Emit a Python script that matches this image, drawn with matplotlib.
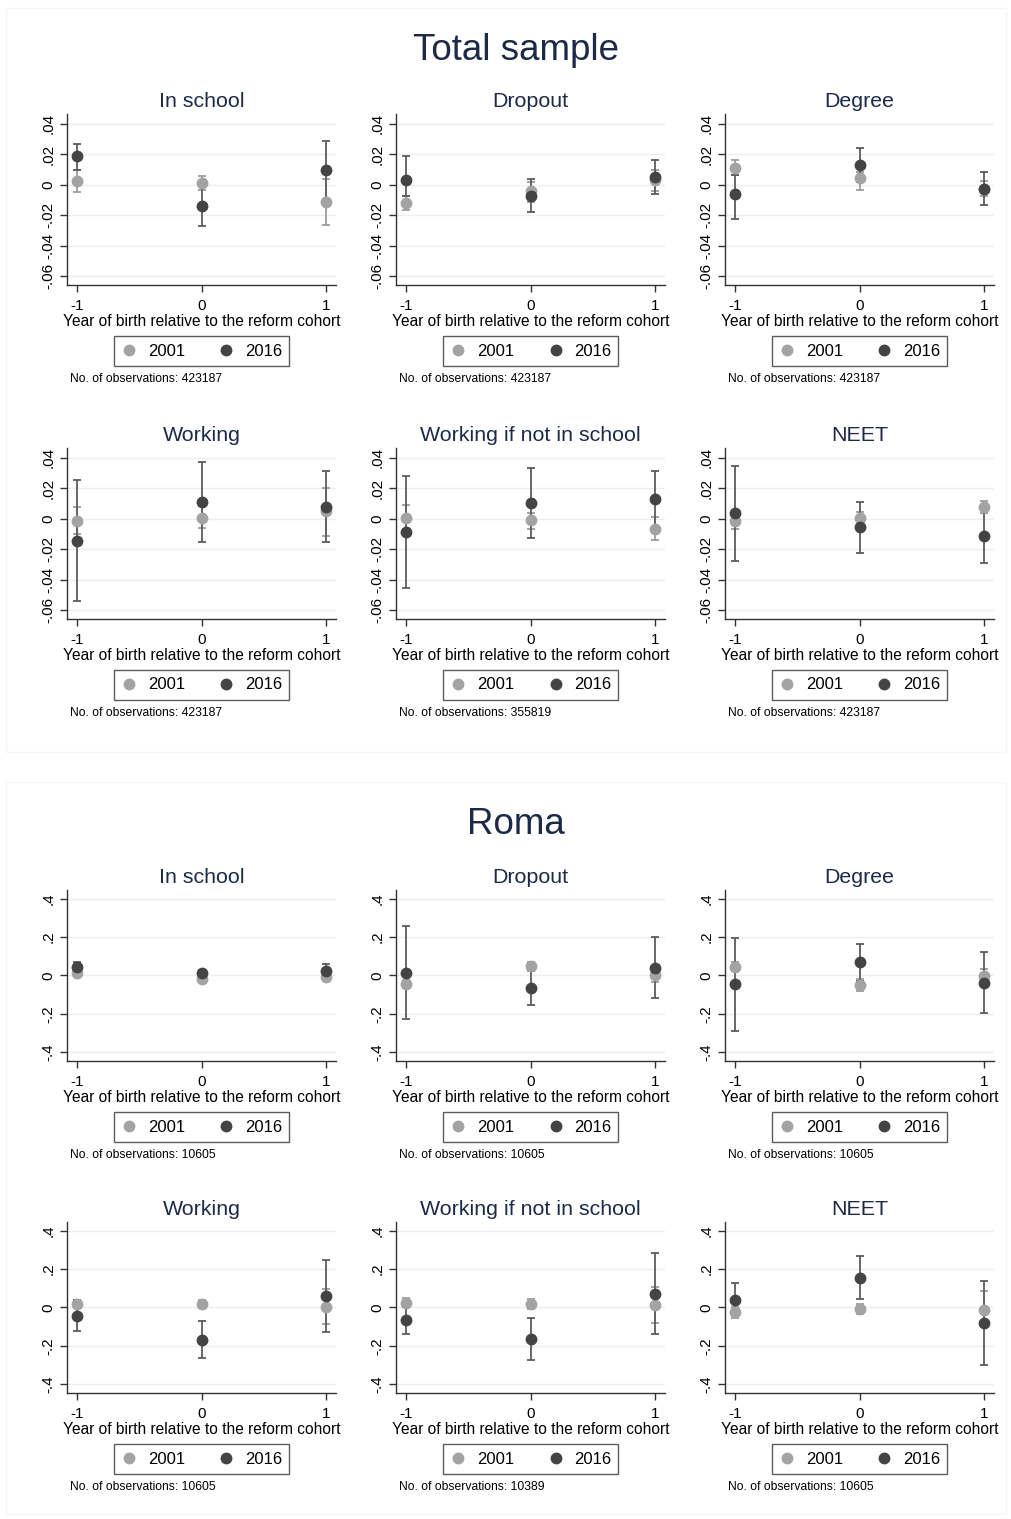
import matplotlib
matplotlib.use("Agg")
import matplotlib.pyplot as plt
from matplotlib.lines import Line2D
from matplotlib.patches import Rectangle
import numpy as np

plt.rcParams["font.family"] = ["Liberation Sans", "DejaVu Sans"]

# ---- data -------------------------------------------------------------
cohorts = [-1, 0, 1]
outcomes = ["In school", "Dropout", "Degree",
            "Working", "Working if not in school", "NEET"]
series_labels = ["2001", "2016"]

# Total sample: point estimates and 95% CI (rows = outcomes, cols = cohorts)
tot_est_2001 = [[0.0024, 0.0013, -0.0114],
                [-0.0119, -0.0042, 0.0029],
                [0.0112, 0.0042, -0.0026],
                [-0.0016, 0.0007, 0.0047],
                [0.0007, -0.0011, -0.0069],
                [-0.0015, 0.0007, 0.0077]]
tot_lo_2001 = [[-0.0050, -0.0037, -0.0266],
               [-0.0165, -0.0114, -0.0044],
               [0.0064, -0.0037, -0.0077],
               [-0.0104, -0.0062, -0.0113],
               [-0.0071, -0.0067, -0.0142],
               [-0.0066, -0.0033, 0.0040]]
tot_hi_2001 = [[0.0098, 0.0057, 0.0037],
               [-0.0075, 0.0018, 0.0099],
               [0.0163, 0.0084, 0.0024],
               [0.0076, 0.0080, 0.0200],
               [0.0087, 0.0038, 0.0011],
               [0.0033, 0.0046, 0.0114]]
tot_est_2016 = [[0.0185, -0.0140, 0.0095],
                [0.0029, -0.0075, 0.0051],
                [-0.0059, 0.0127, -0.0030],
                [-0.0144, 0.0107, 0.0078],
                [-0.0089, 0.0102, 0.0127],
                [0.0037, -0.0057, -0.0116]]
tot_lo_2016 = [[0.0099, -0.0273, -0.0092],
               [-0.0075, -0.0182, -0.0062],
               [-0.0224, 0.0020, -0.0134],
               [-0.0544, -0.0153, -0.0153],
               [-0.0456, -0.0129, -0.0053],
               [-0.0275, -0.0226, -0.0288]]
tot_hi_2016 = [[0.0270, -0.0007, 0.0286],
               [0.0191, 0.0035, 0.0165],
               [0.0064, 0.0242, 0.0081],
               [0.0253, 0.0371, 0.0311],
               [0.0278, 0.0333, 0.0313],
               [0.0349, 0.0112, 0.0055]]
tot_nobs = [423187, 423187, 423187, 423187, 355819, 423187]

# Roma
roma_est_2001 = [[0.014, -0.017, -0.007],
                 [-0.047, 0.047, 0.0035],
                 [0.044, -0.049, -0.005],
                 [0.017, 0.017, 0.0035],
                 [0.025, 0.018, 0.012],
                 [-0.025, -0.007, -0.011]]
roma_lo_2001 = [[0.000, -0.030, -0.020],
                [-0.068, 0.023, -0.037],
                [0.021, -0.079, -0.045],
                [-0.005, -0.005, -0.087],
                [0.000, -0.007, -0.084],
                [-0.053, -0.032, -0.090]]
roma_hi_2001 = [[0.030, -0.005, 0.010],
                [-0.026, 0.072, 0.044],
                [0.068, -0.019, 0.035],
                [0.040, 0.038, 0.094],
                [0.051, 0.044, 0.108],
                [0.000, 0.018, 0.084]]
roma_est_2016 = [[0.044, 0.012, 0.021],
                 [0.014, -0.065, 0.040],
                 [-0.047, 0.068, -0.038],
                 [-0.044, -0.168, 0.058],
                 [-0.067, -0.165, 0.072],
                 [0.040, 0.154, -0.081]]
roma_lo_2016 = [[0.021, -0.003, -0.017],
                [-0.227, -0.157, -0.117],
                [-0.290, -0.028, -0.194],
                [-0.122, -0.266, -0.130],
                [-0.140, -0.275, -0.137],
                [-0.042, 0.042, -0.300]]
roma_hi_2016 = [[0.070, 0.026, 0.058],
                [0.257, 0.035, 0.201],
                [0.194, 0.164, 0.122],
                [0.040, -0.070, 0.245],
                [0.004, -0.053, 0.284],
                [0.125, 0.268, 0.140]]
roma_nobs = [10605, 10605, 10605, 10605, 10389, 10605]

tot_yticks = [-0.06, -0.04, -0.02, 0, 0.02, 0.04]
tot_ylabels = ["-.06", "-.04", "-.02", "0", ".02", ".04"]
roma_yticks = [-0.4, -0.2, 0, 0.2, 0.4]
roma_ylabels = ["-.4", "-.2", "0", ".2", ".4"]

# ---- style ------------------------------------------------------------
W, H = 1012, 1519
C01 = "#a3a3a3"
C16 = "#444444"
E01 = "#9c9c9c"
E16 = "#5c5c5c"
GRID = "#e8f0f2"
TITLE = "#1c2a48"

fig = plt.figure(figsize=(W / 100, H / 100), dpi=100)

# faint graph-region frames
for (y0, y1) in [(8, 752), (782, 1514)]:
    fig.patches.append(Rectangle((6 / W, 1 - y1 / H), 1000 / W, (y1 - y0) / H,
                                 transform=fig.transFigure, fill=False,
                                 edgecolor="#f4f6f8", linewidth=1.0))

col_left = [67, 396, 725]
ax_w, ax_h = 269, 171


def draw_block(row_tops, est1, lo1, hi1, est2, lo2, hi2, nobs,
               yticks, ylabels, ylim):
    for k, name in enumerate(outcomes):
        r, c = divmod(k, 3)
        left, top = col_left[c], row_tops[r]
        ax = fig.add_axes([left / W, 1 - (top + ax_h) / H, ax_w / W, ax_h / H])
        e1, e2 = np.array(est1[k]), np.array(est2[k])
        ax.errorbar(cohorts, e1, yerr=[e1 - np.array(lo1[k]), np.array(hi1[k]) - e1],
                    fmt="none", ecolor=E01, elinewidth=1.3, capsize=2.8, capthick=1.3, zorder=3)
        ax.errorbar(cohorts, e2, yerr=[e2 - np.array(lo2[k]), np.array(hi2[k]) - e2],
                    fmt="none", ecolor=E16, elinewidth=1.3, capsize=2.8, capthick=1.3, zorder=3)
        ax.plot(cohorts, e1, "o", color=C01, markersize=7.5, zorder=4)
        ax.plot(cohorts, e2, "o", color=C16, markersize=7.5, zorder=5)

        ax.set_xlim(-1.084, 1.08)
        ax.set_ylim(*ylim)
        ax.set_xticks(cohorts)
        ax.set_xticklabels(["-1", "0", "1"], fontsize=11)
        ax.set_yticks(yticks)
        ax.set_yticklabels(ylabels, fontsize=11, rotation=90, va="center")
        ax.grid(axis="y", color=GRID, linewidth=1.0, zorder=0)
        ax.set_axisbelow(True)
        for s in ("top", "right"):
            ax.spines[s].set_visible(False)
        for s in ("left", "bottom"):
            ax.spines[s].set_color("#333333")
            ax.spines[s].set_linewidth(1.0)
        ax.tick_params(direction="out", length=5, width=1.0, color="#333333")
        ax.tick_params(axis="x", pad=5)
        ax.set_xlabel("Year of birth relative to the reform cohort", fontsize=11.2, labelpad=1)
        ax.set_title(name, fontsize=15.4, color=TITLE, pad=5)

        cx = (left + ax_w / 2) / W
        handles = [Line2D([], [], marker="o", linestyle="none", color=C01, markersize=7.5),
                   Line2D([], [], marker="o", linestyle="none", color=C16, markersize=7.5)]
        leg = fig.legend(handles, series_labels, loc="center",
                         bbox_to_anchor=(cx, 1 - (top + 237) / H), ncol=2,
                         fontsize=12, frameon=True, fancybox=False,
                         handletextpad=0.6, columnspacing=2.0, borderpad=0.45,
                         handlelength=1.0, borderaxespad=0)
        leg.get_frame().set_edgecolor("#333333")
        leg.get_frame().set_linewidth(1.0)
        fig.text((left + 3) / W, 1 - (top + 265) / H,
                 f"No. of observations: {nobs[k]}", fontsize=8.7, va="center")


fig.text(0.51, 1 - 50 / H, "Total sample", fontsize=26.5, color=TITLE, ha="center", va="center")
draw_block([114, 448], tot_est_2001, tot_lo_2001, tot_hi_2001,
           tot_est_2016, tot_lo_2016, tot_hi_2016, tot_nobs,
           tot_yticks, tot_ylabels, (-0.0659, 0.0464))

fig.text(0.51, 1 - 825 / H, "Roma", fontsize=26.5, color=TITLE, ha="center", va="center")
draw_block([890, 1222], roma_est_2001, roma_lo_2001, roma_hi_2001,
           roma_est_2016, roma_lo_2016, roma_hi_2016, roma_nobs,
           roma_yticks, roma_ylabels, (-0.447, 0.446))

fig.savefig("out.png", dpi=100, facecolor="white")
